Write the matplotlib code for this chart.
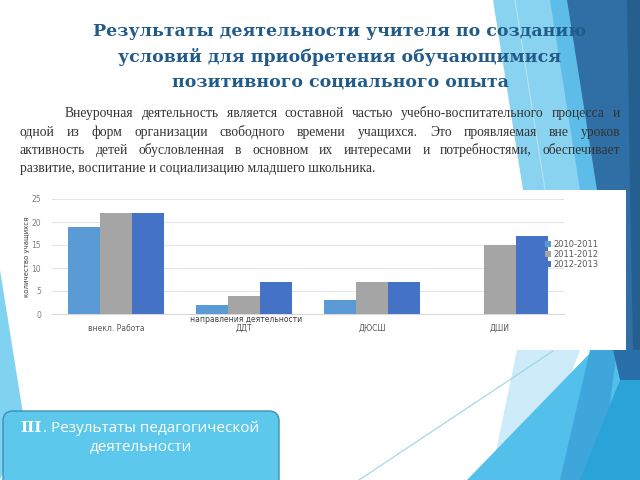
import matplotlib
matplotlib.use("Agg")
import matplotlib.pyplot as plt
import numpy as np
from matplotlib.patches import Polygon, Rectangle, FancyBboxPatch

categories = ["внекл. Работа", "ДДТ", "ДЮСШ", "ДШИ"]
series_names = ["2010-2011", "2011-2012", "2012-2013"]
v2010 = [19, 2, 3, 0]
v2011 = [22, 4, 7, 15]
v2012 = [22, 7, 7, 17]
yticks = [0, 5, 10, 15, 20, 25]
colors = ["#5B9BD5", "#A5A5A5", "#4472C4"]

title_lines = ["Результаты деятельности учителя по созданию",
               "условий для приобретения обучающимися",
               "позитивного социального опыта"]
para_lines = [
    "Внеурочная деятельность является составной частью учебно-воспитательного процесса и",
    "одной из форм организации свободного времени учащихся. Это проявляемая вне уроков",
    "активность детей обусловленная в основном их интересами и потребностями, обеспечивает",
    "развитие, воспитание и социализацию младшего школьника.",
]

W, H = 640, 480
fig = plt.figure(figsize=(6.4, 4.8), dpi=100)
bg = fig.add_axes([0, 0, 1, 1])
bg.set_xlim(0, W)
bg.set_ylim(H, 0)
bg.axis("off")

def poly(pts, color, z=1, alpha=1.0):
    bg.add_patch(Polygon(pts, closed=True, facecolor=color, edgecolor="none", zorder=z, alpha=alpha))

# right top decorations
poly([(493, 0), (640, 0), (640, 190), (523, 190)], "#8AD3F0", 1)
poly([(550, 0), (640, 0), (640, 190), (580, 190)], "#5DBDE8", 2)
poly([(567, 0), (640, 0), (640, 190), (597, 190)], "#2F6FA5", 3)
poly([(627, 0), (640, 0), (640, 190), (630, 190)], "#245F90", 4)
poly([(597, 190), (640, 190), (640, 350), (615, 350)], "#2F6FA5", 3)
poly([(630, 190), (640, 190), (640, 350), (633, 350)], "#245F90", 4)
bg.plot([515, 545], [0, 190], color="#B8E6F7", lw=0.7, zorder=2)
# bottom right decorations
poly([(517, 350), (580, 350), (530, 480), (490, 480)], "#CDEBF8", 1)
poly([(467, 480), (593, 350), (640, 350), (640, 480)], "#52C0EA", 2)
poly([(590, 350), (617, 350), (600, 480), (560, 480)], "#3FA6DC", 3)
poly([(613, 350), (640, 350), (640, 380), (620, 380)], "#2A6FA8", 4)
poly([(620, 380), (640, 380), (640, 480), (580, 480)], "#2AA3D8", 4)
bg.plot([359, 553], [480, 351], color="#9AD5E2", lw=0.8, zorder=5)
# left strip
poly([(0, 270), (24, 420), (0, 480)], "#7FD3F0", 1)

# chart panel
bg.add_patch(Rectangle((18, 190), 608, 160, facecolor="white", edgecolor="none", zorder=6))

# bottom-left box
bg.add_patch(FancyBboxPatch((3, 411), 276, 80, boxstyle="round,pad=0,rounding_size=10",
                            facecolor="#5BC8EC", edgecolor="#3E8FB3", lw=1.0, zorder=7))
bg.text(20, 432, "III", ha="left", va="baseline", color="white", fontsize=11,
        fontweight="bold", family="DejaVu Serif", zorder=8)
bg.text(43, 432, ". Результаты педагогической", ha="left", va="baseline",
        color="white", fontsize=11, family="Open Sans", zorder=8)
bg.text(141, 448, "деятельности", ha="center", va="center",
        color="white", fontsize=11, family="Open Sans", zorder=8)

# title
for i, line in enumerate(title_lines):
    bg.text(340, 32 + 25 * i, line, ha="center", va="center", color="#215B8A",
            fontsize=12.5, fontweight="bold", family="DejaVu Serif", zorder=8)

# paragraph (justified)
fig.canvas.draw()
renderer = fig.canvas.get_renderer()
starts = [65, 20, 20, 20]
ys = [117, 136, 154, 172]
pfs = 9.8
for i, line in enumerate(para_lines):
    words = line.split(" ")
    if i == len(para_lines) - 1:
        bg.text(starts[i], ys[i], line, ha="left", va="baseline", fontsize=pfs,
                family="Liberation Serif", color="#333333", zorder=8)
        continue
    widths = []
    for w in words:
        t = bg.text(0, 0, w, fontsize=pfs, family="Liberation Serif")
        bb = t.get_window_extent(renderer=renderer)
        widths.append(bb.width)
        t.remove()
    total = 620 - starts[i]
    gap = (total - sum(widths)) / (len(words) - 1)
    x = starts[i]
    for w, wd in zip(words, widths):
        bg.text(x, ys[i], w, ha="left", va="baseline", fontsize=pfs,
                family="Liberation Serif", color="#333333", zorder=8)
        x += wd + gap

# chart axes
ax = fig.add_axes([52 / W, (H - 314) / H, 512 / W, 115 / H], zorder=10)
ax.patch.set_alpha(0)
x = np.arange(len(categories))
bw = 0.25
for k, (vals, name) in enumerate(zip([v2010, v2011, v2012], series_names)):
    ax.bar(x + (k - 1) * bw, vals, bw, color=colors[k], label=name, zorder=3)
ax.set_xlim(-0.5, len(categories) - 0.5)
ax.set_ylim(0, 25)
ax.set_yticks(yticks)
ax.set_yticklabels([str(t) for t in yticks], fontsize=5.5, color="#7F7F7F")
ax.set_xticks(x)
ax.set_xticklabels(categories, fontsize=5.5, color="#595959")
ax.tick_params(length=0, pad=7)
ax.tick_params(axis="y", pad=8)
ax.grid(axis="y", color="#E5E5E5", lw=0.8, zorder=0)
for s in ["top", "right", "left"]:
    ax.spines[s].set_visible(False)
ax.spines["bottom"].set_color("#D9D9D9")
ax.set_ylabel("количество учащихся", fontsize=5, color="#404040")
ax.yaxis.set_label_coords((30 - 52) / 512, 0.5)
ax.set_xlabel("направления деятельности", fontsize=5.5, color="#404040")
ax.xaxis.set_label_coords((246 - 52) / 512, -0.01)
leg = ax.legend(loc="center left", bbox_to_anchor=(0.955, 0.52), frameon=False,
                fontsize=6, handlelength=0.7, handleheight=0.7, handletextpad=0.3,
                labelspacing=0.1, borderpad=0)
for t in leg.get_texts():
    t.set_color("#595959")

fig.savefig("out.png", dpi=100)
